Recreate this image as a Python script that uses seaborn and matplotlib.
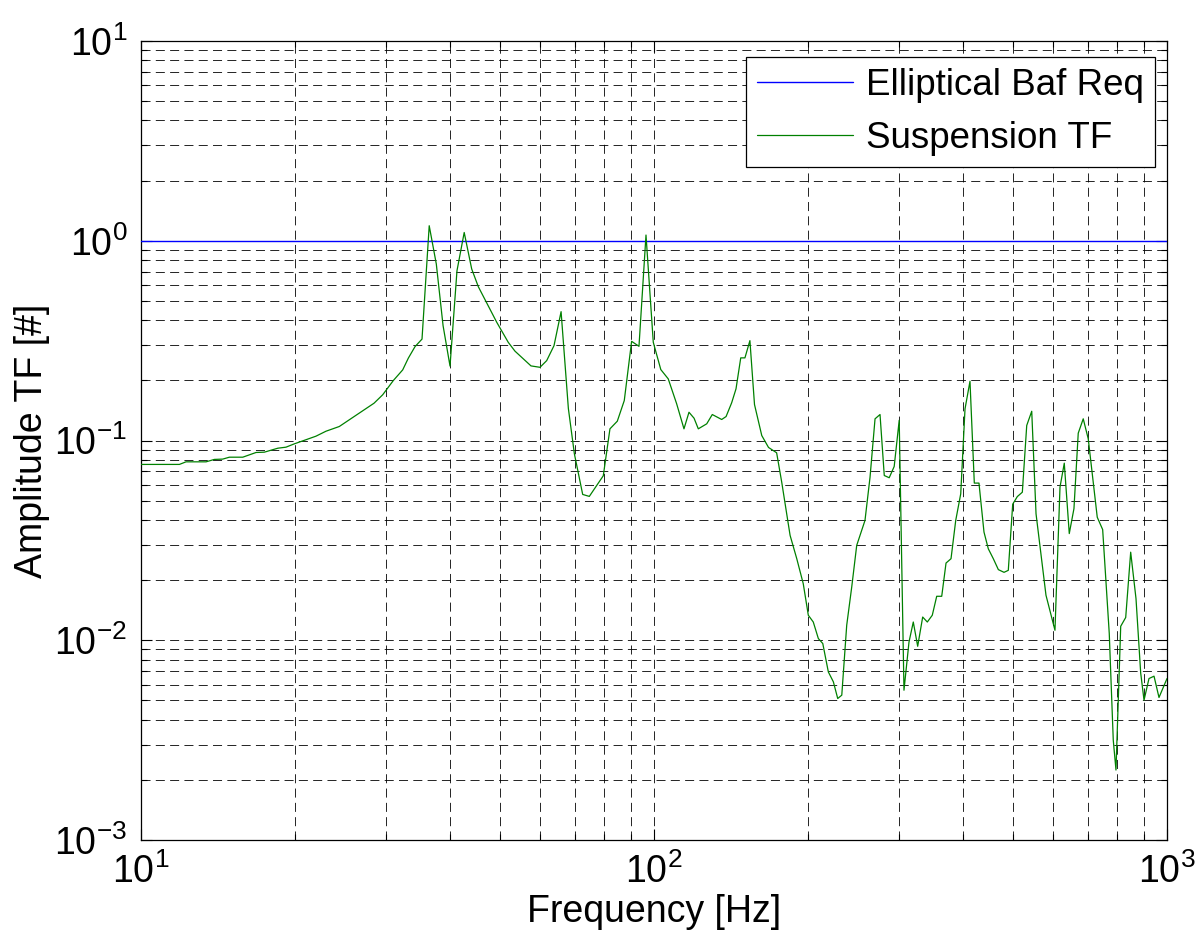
import numpy as np
import pandas as pd
import matplotlib
matplotlib.use("Agg")
import matplotlib.pyplot as plt
import seaborn as sns
from matplotlib.ticker import LogLocator, NullFormatter

freq_hz = [10.0, 11.88, 12.24, 13.39, 13.90, 14.43, 14.87, 15.79, 16.76, 17.39,
           18.48, 19.17, 19.90, 21.93, 22.94, 24.35, 28.46, 29.59, 31.03, 32.37,
           33.20, 34.21, 35.30, 36.46, 37.64, 38.80, 40.03, 41.30, 42.66, 44.12,
           45.45, 49.38, 51.99, 53.58, 57.57, 59.95, 61.78, 63.84, 65.90, 68.09,
           69.95, 72.61, 74.80, 79.64, 82.06, 84.81, 87.51, 90.44, 93.48, 96.47,
           99.68, 103.1, 106.6, 110.7, 114.4, 117.0, 119.7, 122.0, 126.7, 129.9,
           135.5, 138.2, 141.7, 144.5, 147.6, 150.4, 153.8, 157.0, 162.2, 167.2,
           173.4, 177.4, 184.2, 189.8, 195.4, 199.9, 204.4, 209.1, 213.3, 218.7,
           223.7, 228.1, 232.3, 237.5, 242.9, 248.4, 257.8, 263.7, 269.7, 275.8,
           281.1, 287.4, 293.9, 300.6, 307.1, 314.1, 320.2, 326.6, 334.0, 341.0,
           348.7, 355.7, 363.8, 370.9, 379.3, 387.4, 396.2, 403.9, 413.0, 421.1,
           430.0, 439.8, 448.4, 458.6, 469.1, 481.2, 490.5, 500.3, 510.8, 522.4,
           532.8, 544.9, 555.5, 580.9, 604.8, 618.6, 630.6, 644.9, 658.6, 671.4,
           686.6, 702.2, 731.2, 749.2, 771.7, 785.7, 795.3, 812.4, 830.8, 849.6,
           870.1, 888.6, 902.0, 922.3, 943.4, 964.7, 1000.0]

suspension_tf = [0.0759, 0.0759, 0.0782, 0.0782, 0.0804, 0.0807, 0.0825, 0.0825, 0.0871, 0.0874,
                 0.0915, 0.0926, 0.0962, 0.1051, 0.1113, 0.1175, 0.1537, 0.1694, 0.1995, 0.2257,
                 0.2585, 0.2951, 0.3219, 1.189, 0.7648, 0.3758, 0.2358, 0.7079, 1.100, 0.7222,
                 0.5888, 0.3903, 0.3100, 0.2801, 0.2363, 0.2325, 0.2512, 0.2985, 0.4416, 0.1445,
                 0.0858, 0.0537, 0.0525, 0.0666, 0.1144, 0.1249, 0.1585, 0.3137, 0.2961, 1.068,
                 0.3100, 0.2265, 0.2035, 0.1527, 0.1144, 0.1385, 0.1293, 0.1144, 0.1212, 0.1349,
                 0.1274, 0.1318, 0.1544, 0.1814, 0.2592, 0.2592, 0.3162, 0.1514, 0.1059, 0.0923,
                 0.0868, 0.0619, 0.0335, 0.0256, 0.0192, 0.01334, 0.01234, 0.0102, 0.00963, 0.00694,
                 0.00619, 0.00511, 0.00531, 0.01189, 0.01847, 0.02985, 0.0398, 0.0655, 0.1284, 0.1349,
                 0.0668, 0.0651, 0.0741, 0.1263, 0.00562, 0.0098, 0.01234, 0.00933, 0.01307, 0.01234,
                 0.01334, 0.0166, 0.0166, 0.02435, 0.0256, 0.0398, 0.0541, 0.1440, 0.1979, 0.0612,
                 0.0612, 0.0348, 0.0287, 0.0256, 0.02257, 0.02188, 0.02239, 0.0480, 0.0524, 0.0551,
                 0.1189, 0.1401, 0.0430, 0.0168, 0.01122, 0.0584, 0.0770, 0.0342, 0.0456, 0.1088,
                 0.1284, 0.1020, 0.0413, 0.0358, 0.0108, 0.00316, 0.00224, 0.01175, 0.0130, 0.0276,
                 0.01616, 0.00686, 0.00501, 0.00643, 0.00661, 0.00517, 0.00643]

req_freq = [10.0, 1000.0]
req_amp = [1.0, 1.0]

sns.set_theme(style="white")
plt.rcParams['font.family'] = ['Liberation Sans', 'DejaVu Sans']
plt.rcParams['mathtext.fontset'] = 'custom'
plt.rcParams['mathtext.rm'] = 'Liberation Sans'
plt.rcParams['mathtext.it'] = 'Liberation Sans:italic'
plt.rcParams['mathtext.bf'] = 'Liberation Sans:bold'
plt.rcParams['lines.scale_dashes'] = False
plt.rcParams['text.color'] = 'black'
plt.rcParams['axes.labelcolor'] = 'black'
plt.rcParams['xtick.color'] = 'black'
plt.rcParams['ytick.color'] = 'black'

fig = plt.figure(figsize=(11.98, 9.51), dpi=100)
ax = fig.add_axes([141/1198, 1 - 840/951, (1167-141)/1198, (840-41)/951])
ax.set_xscale('log')
ax.set_yscale('log')

df_req = pd.DataFrame({'f': req_freq, 'a': req_amp})
df_tf = pd.DataFrame({'f': freq_hz, 'a': suspension_tf})
sns.lineplot(data=df_req, x='f', y='a', ax=ax, color=(0, 0, 1), linewidth=1.0,
             label='Elliptical Baf Req', estimator=None, sort=False, zorder=3)
sns.lineplot(data=df_tf, x='f', y='a', ax=ax, color=(0, 0.5, 0), linewidth=0.9,
             label='Suspension TF', estimator=None, sort=False, zorder=4)

ax.set_xlim(10, 1000)
ax.set_ylim(1e-3, 10)
ax.xaxis.set_major_locator(LogLocator(base=10, numticks=10))
ax.yaxis.set_major_locator(LogLocator(base=10, numticks=10))
ax.xaxis.set_minor_locator(LogLocator(base=10, subs=np.arange(2, 10), numticks=50))
ax.yaxis.set_minor_locator(LogLocator(base=10, subs=np.arange(2, 10), numticks=50))
ax.xaxis.set_minor_formatter(NullFormatter())
ax.yaxis.set_minor_formatter(NullFormatter())

ax.grid(True, which='both', color='black', linestyle=(0, (6.5, 3.8)), linewidth=0.6)
ax.set_axisbelow(True)

ax.tick_params(which='both', direction='in', top=True, right=True, bottom=True, left=True,
               color='black', width=0.8, labelcolor='black')
ax.tick_params(which='major', length=8, labelsize=27, pad=10)
ax.tick_params(which='minor', length=4)

for s in ax.spines.values():
    s.set_visible(True)
    s.set_color('black')
    s.set_linewidth(0.9)

ax.set_xlabel('Frequency [Hz]', fontsize=27, labelpad=2, color='black')
ax.set_ylabel('Amplitude TF [#]', fontsize=27, labelpad=3, color='black')

leg = ax.legend(loc='upper right', bbox_to_anchor=(1 - 12/1026, 1 - 16/799),
                borderaxespad=0, fontsize=26.5, frameon=True, fancybox=False,
                edgecolor='black', framealpha=1,
                handlelength=2.6, handletextpad=0.35, borderpad=0.3, labelspacing=0.48)
leg.get_frame().set_linewidth(0.9)
for t in leg.get_texts():
    t.set_color('black')

fig.savefig('out.png', dpi=100, facecolor='white')
